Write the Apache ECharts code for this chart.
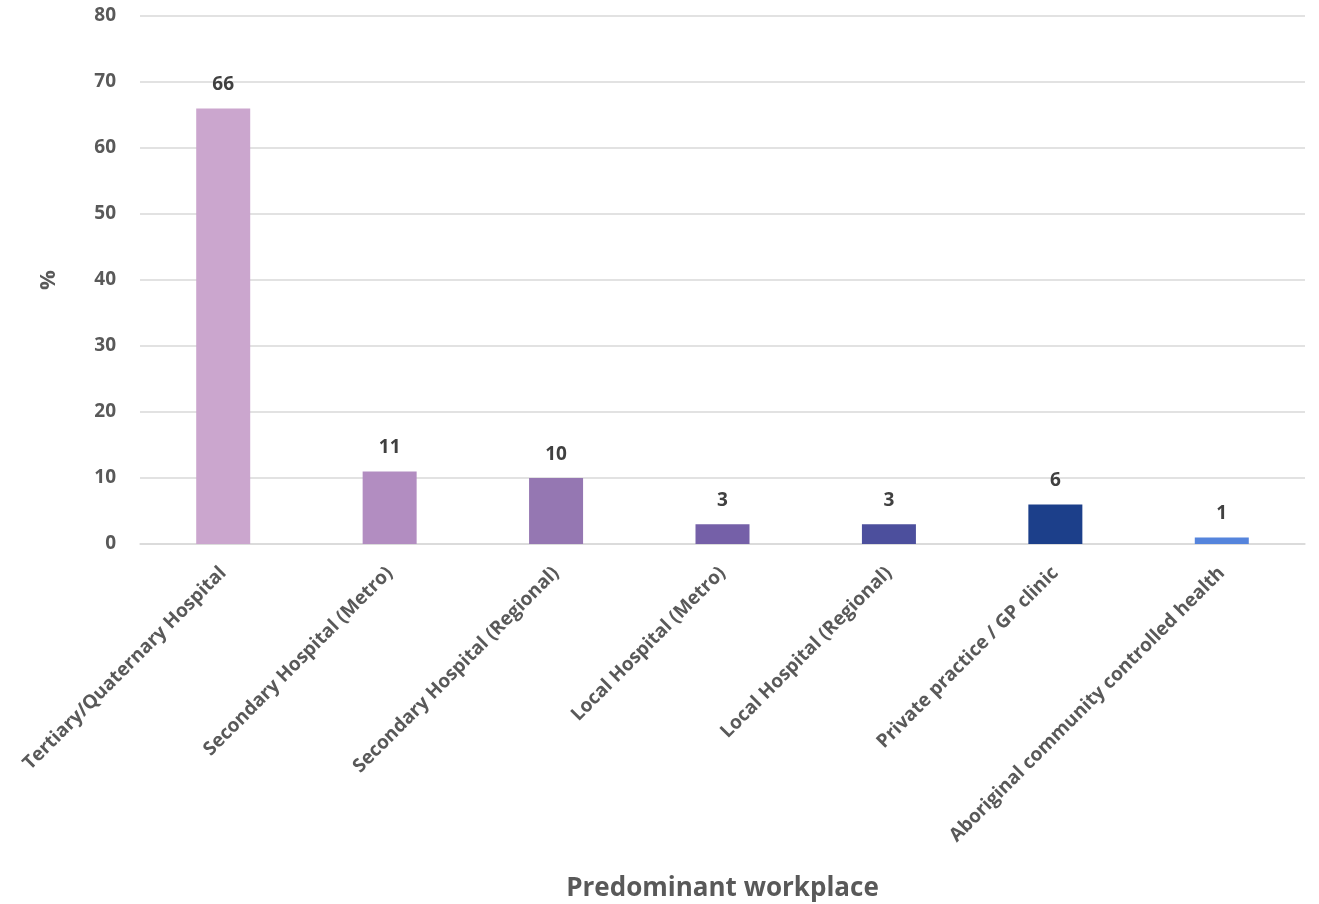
<!DOCTYPE html>
<html><head><meta charset="utf-8">
<script src="https://cdn.jsdelivr.net/npm/echarts@6/dist/echarts.min.js"></script>
<style>html,body{margin:0;padding:0;background:#fff}#c{width:1319px;height:904px}</style>
</head><body><div id="c"></div>
<script>
const categories = ["Tertiary/Quaternary Hospital","Secondary Hospital (Metro)","Secondary Hospital (Regional)","Local Hospital (Metro)","Local Hospital (Regional)","Private practice / GP clinic","Aboriginal community controlled health"];
const values = [66, 11, 10, 3, 3, 6, 1];
const colors = ["#CBA6CE","#B28DC1","#9577B2","#7560A8","#4C4F9D","#1C3F8A","#5584DC"];
const yTicks = [0,10,20,30,40,50,60,70,80];
const FONT = "Open Sans";
const chart = echarts.init(document.getElementById('c'));
chart.setOption({
  animation:false,
  grid:{left:140,right:14,top:16,bottom:360,containLabel:false,outerBoundsMode:'none'},
  xAxis:{type:'category',data:categories,
    axisLine:{lineStyle:{color:'#d9d9d9',width:1.5}},axisTick:{show:false},
    axisLabel:{rotate:45,interval:0,margin:26,color:'#595959',fontWeight:'bold',fontSize:19,fontFamily:FONT},
    name:'Predominant workplace',nameLocation:'middle',nameGap:332,
    nameTextStyle:{color:'#595959',fontWeight:'bold',fontSize:26,fontFamily:FONT}},
  yAxis:{type:'value',min:yTicks[0],max:yTicks[yTicks.length-1],interval:10,
    axisLine:{show:false},axisTick:{show:false},
    splitLine:{lineStyle:{color:'#d9d9d9',width:1.5}},
    axisLabel:{margin:24,color:'#595959',fontWeight:'bold',fontSize:19,fontFamily:FONT},
    name:'%',nameLocation:'middle',nameGap:80,nameRotate:90,
    nameTextStyle:{color:'#595959',fontWeight:'bold',fontSize:22,fontFamily:FONT}},
  series:[{type:'bar',barWidth:54,
    data:values.map((v,i)=>({value:v,itemStyle:{color:colors[i]}})),
    label:{show:true,position:'top',distance:14,color:'#404040',fontWeight:'bold',fontSize:19,fontFamily:FONT}}]
});
</script></body></html>
